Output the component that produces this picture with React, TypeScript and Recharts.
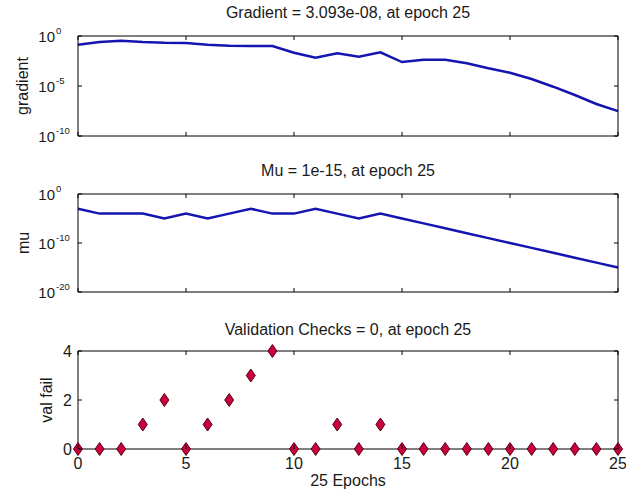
import { ComposedChart, Line, Scatter, XAxis, YAxis } from "recharts";

// training record, one entry per epoch
const epochs = [0, 1, 2, 3, 4, 5, 6, 7, 8, 9, 10, 11, 12, 13, 14, 15, 16, 17, 18, 19, 20, 21, 22, 23, 24, 25];
const gradient = [
  0.135, 0.25, 0.34, 0.25, 0.21, 0.2, 0.135, 0.107, 0.1, 0.1, 0.021, 0.0068, 0.019,
  0.0085, 0.023, 0.0025, 0.0043, 0.0043, 0.0019, 5.9e-4, 2.1e-4, 5.0e-5, 8.5e-6,
  1.26e-6, 1.6e-7, 3.093e-8,
];
const mu = [
  1e-3, 1e-4, 1e-4, 1e-4, 1e-5, 1e-4, 1e-5, 1e-4, 1e-3, 1e-4, 1e-4, 1e-3, 1e-4,
  1e-5, 1e-4, 1e-5, 1e-6, 1e-7, 1e-8, 1e-9, 1e-10, 1e-11, 1e-12, 1e-13, 1e-14, 1e-15,
];
const valFail = [0, 0, 0, 1, 2, 0, 1, 2, 3, 4, 0, 0, 1, 0, 1, 0, 0, 0, 0, 0, 0, 0, 0, 0, 0, 0];

const epochTicks = [0, 5, 10, 15, 20, 25];
const gradTicks = [1e-10, 1e-5, 1];
const muTicks = [1e-20, 1e-10, 1];
const valTicks = [0, 2, 4];

const rows = epochs.map((e, i) => ({
  epoch: e,
  gradient: gradient[i],
  mu: mu[i],
  valFail: valFail[i],
}));

const FONT = '"Liberation Sans", Arial, Helvetica, sans-serif';
const INK = "#1a1a1a";
const BLUE = "#1414b0";
const W = 626;
const TICK = 4; // inward tick length

type Side = "bottom" | "top" | "left" | "right";

// tick renderer that draws its own inward tick line (matlab box style) plus an optional label.
// tickSize is 0 on every axis, so the axis edge sits `gap` px back from (x, y).
function makeTick(side: Side, gap: number, label: "none" | "plain" | "power") {
  return function FrameTick({ x, y, payload }: any) {
    let line: [number, number, number, number];
    if (side === "bottom") line = [x, y - gap, x, y - gap - TICK];
    else if (side === "top") line = [x, y + gap, x, y + gap + TICK];
    else if (side === "left") line = [x + gap, y, x + gap + TICK, y];
    else line = [x - gap, y, x - gap - TICK, y];
    let text = null;
    if (label === "plain") {
      text =
        side === "bottom" ? (
          <text x={x} y={y + 12} textAnchor="middle" fontSize={16}>
            {payload.value}
          </text>
        ) : (
          <text x={x} y={y + 6} textAnchor="end" fontSize={16}>
            {payload.value}
          </text>
        );
    } else if (label === "power") {
      const exp = Math.round(Math.log10(payload.value));
      text = (
        <>
          <text x={x} y={y + 6} textAnchor="end" fontSize={15}>
            10
          </text>
          <text x={x + 1} y={y - 2} fontSize={9.5}>
            {exp}
          </text>
        </>
      );
    }
    return (
      <g fontFamily={FONT} fill={INK}>
        <line x1={line[0]} y1={line[1]} x2={line[2]} y2={line[3]} stroke="#000" strokeWidth={1} />
        {text}
      </g>
    );
  };
}

function Diamond({ cx, cy }: any) {
  const hw = 4.5;
  const hh = 6.5;
  return (
    <polygon
      points={`${cx},${cy - hh} ${cx + hw},${cy} ${cx},${cy + hh} ${cx - hw},${cy}`}
      fill="#c8003c"
      stroke="#5a0018"
      strokeWidth={1}
    />
  );
}

const axisStroke = { stroke: "#000", strokeWidth: 1 };

function frameAxes(yTicks: number[], yDomain: [number, number], log: boolean, labelled: boolean) {
  const scale = log ? "log" : "linear";
  return [
    <XAxis
      key="xb"
      xAxisId="b"
      dataKey="epoch"
      type="number"
      domain={[0, 25]}
      ticks={epochTicks}
      interval={0}
      height={labelled ? 30 : 1}
      tickSize={0}
      tickMargin={labelled ? 8 : 0}
      tick={makeTick("bottom", labelled ? 8 : 0, labelled ? "plain" : "none")}
      axisLine={axisStroke}
      tickLine={false}
    />,
    <XAxis
      key="xt"
      xAxisId="t"
      dataKey="epoch"
      orientation="top"
      type="number"
      domain={[0, 25]}
      ticks={epochTicks}
      interval={0}
      height={1}
      tickSize={0}
      tickMargin={0}
      tick={makeTick("top", 0, "none")}
      axisLine={axisStroke}
      tickLine={false}
    />,
    <YAxis
      key="yl"
      yAxisId="l"
      type="number"
      scale={scale}
      domain={yDomain}
      allowDataOverflow={log}
      ticks={yTicks}
      interval={0}
      width={78}
      tickSize={0}
      tickMargin={log ? 23 : 6}
      tick={makeTick("left", log ? 23 : 6, log ? "power" : "plain")}
      axisLine={axisStroke}
      tickLine={false}
    />,
    <YAxis
      key="yr"
      yAxisId="r"
      orientation="right"
      type="number"
      scale={scale}
      domain={yDomain}
      allowDataOverflow={log}
      ticks={yTicks}
      interval={0}
      width={1}
      tickSize={0}
      tickMargin={0}
      tick={makeTick("right", 0, "none")}
      axisLine={axisStroke}
      tickLine={false}
    />,
  ];
}

function Title({ text, cy }: { text: string; cy: number }) {
  return (
    <div
      style={{
        position: "absolute",
        left: 78,
        width: 540,
        top: cy - 9,
        lineHeight: "18px",
        textAlign: "center",
        fontFamily: FONT,
        fontSize: 16,
        color: INK,
        whiteSpace: "nowrap",
      }}
    >
      {text}
    </div>
  );
}

function SideLabel({ text, cx, cy }: { text: string; cx: number; cy: number }) {
  return (
    <div
      style={{
        position: "absolute",
        left: cx,
        top: cy,
        transform: "translate(-50%, -50%) rotate(-90deg)",
        fontFamily: FONT,
        fontSize: 16,
        color: INK,
        whiteSpace: "nowrap",
        lineHeight: "18px",
      }}
    >
      {text}
    </div>
  );
}

export default function App() {
  return (
    <div style={{ position: "absolute", left: 0, top: 0, width: W, height: 495, background: "#fff", overflow: "hidden" }}>
      <Title text="Gradient = 3.093e-08, at epoch 25" cy={13} />
      <SideLabel text="gradient" cx={23} cy={86} />
      <div style={{ position: "absolute", left: 0, top: 0 }}>
        <ComposedChart width={W} height={150} data={rows} margin={{ top: 35, right: 7, bottom: 13, left: 0 }}>
          {frameAxes(gradTicks, [1e-10, 1], true, false)}
          {/* invisible twin binds the top and right frame axes */}
          <Line xAxisId="t" yAxisId="r" dataKey="gradient" stroke="none" dot={false} activeDot={false} isAnimationActive={false} />
          <Line
            xAxisId="b"
            yAxisId="l"
            dataKey="gradient"
            stroke={BLUE}
            strokeWidth={2.5}
            dot={false}
            isAnimationActive={false}
          />
        </ComposedChart>
      </div>

      <Title text="Mu = 1e-15, at epoch 25" cy={171} />
      <SideLabel text="mu" cx={24} cy={243} />
      <div style={{ position: "absolute", left: 0, top: 150 }}>
        <ComposedChart width={W} height={150} data={rows} margin={{ top: 43, right: 7, bottom: 7, left: 0 }}>
          {frameAxes(muTicks, [1e-20, 1], true, false)}
          <Line xAxisId="t" yAxisId="r" dataKey="mu" stroke="none" dot={false} activeDot={false} isAnimationActive={false} />
          <Line
            xAxisId="b"
            yAxisId="l"
            dataKey="mu"
            stroke={BLUE}
            strokeWidth={2.5}
            dot={false}
            isAnimationActive={false}
          />
        </ComposedChart>
      </div>

      <Title text="Validation Checks = 0, at epoch 25" cy={330} />
      <SideLabel text="val fail" cx={47} cy={400} />
      <div style={{ position: "absolute", left: 0, top: 300 }}>
        <ComposedChart width={W} height={195} data={rows} margin={{ top: 50, right: 7, bottom: 16, left: 0 }}>
          {frameAxes(valTicks, [0, 4], false, true)}
          <Line xAxisId="t" yAxisId="r" dataKey="valFail" stroke="none" dot={false} activeDot={false} isAnimationActive={false} />
          <Scatter
            xAxisId="b"
            yAxisId="l"
            dataKey="valFail"
            shape={<Diamond />}
            isAnimationActive={false}
          />
        </ComposedChart>
      </div>
      <div
        style={{
          position: "absolute",
          left: 78,
          width: 540,
          top: 472,
          lineHeight: "18px",
          textAlign: "center",
          fontFamily: FONT,
          fontSize: 16,
          color: INK,
        }}
      >
        25 Epochs
      </div>
    </div>
  );
}
